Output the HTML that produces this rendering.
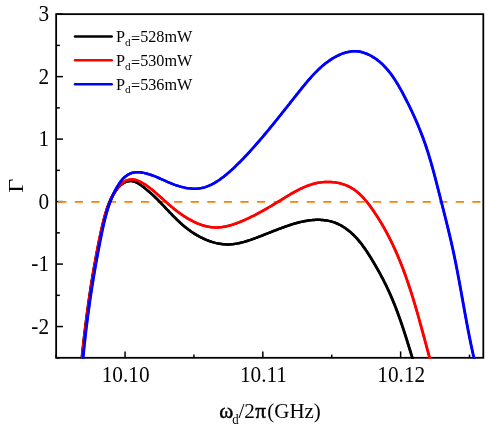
<!DOCTYPE html>
<html><head><meta charset="utf-8"><title>chart</title>
<style>
html,body{margin:0;padding:0;background:#fff;}
body{width:486px;height:429px;overflow:hidden;}
svg{display:block;will-change:transform;}
text{font-family:"Liberation Serif",serif;fill:#000;}
</style></head>
<body>
<svg width="486" height="429" viewBox="0 0 486 429">
<rect width="486" height="429" fill="#fff"/>
<defs><clipPath id="c"><rect x="55.25" y="13.25" width="428.95000000000005" height="345.45000000000005"/></clipPath></defs>
<g stroke="#000" stroke-width="1.5" fill="none"><line x1="56.15" y1="14.15" x2="62.949999999999996" y2="14.15"/><line x1="56.15" y1="76.63" x2="62.949999999999996" y2="76.63"/><line x1="56.15" y1="139.11" x2="62.949999999999996" y2="139.11"/><line x1="56.15" y1="201.60" x2="62.949999999999996" y2="201.60"/><line x1="56.15" y1="264.08" x2="62.949999999999996" y2="264.08"/><line x1="56.15" y1="326.56" x2="62.949999999999996" y2="326.56"/><line x1="56.15" y1="45.39" x2="59.85" y2="45.39"/><line x1="56.15" y1="107.87" x2="59.85" y2="107.87"/><line x1="56.15" y1="170.35" x2="59.85" y2="170.35"/><line x1="56.15" y1="232.84" x2="59.85" y2="232.84"/><line x1="56.15" y1="295.32" x2="59.85" y2="295.32"/><line x1="56.15" y1="357.80" x2="59.85" y2="357.80"/><line x1="125.05" y1="357.8" x2="125.05" y2="351.40000000000003"/><line x1="262.84" y1="357.8" x2="262.84" y2="351.40000000000003"/><line x1="400.63" y1="357.8" x2="400.63" y2="351.40000000000003"/><line x1="56.15" y1="357.8" x2="56.15" y2="354.6"/><line x1="193.94" y1="357.8" x2="193.94" y2="354.6"/><line x1="331.73" y1="357.8" x2="331.73" y2="354.6"/><line x1="469.52" y1="357.8" x2="469.52" y2="354.6"/>
<rect x="56.15" y="14.15" width="427.15000000000003" height="343.65000000000003" stroke-width="1.8"/></g>
<g clip-path="url(#c)" fill="none" stroke-linejoin="round">
<line x1="58.2" y1="201.85" x2="482.3" y2="201.85" stroke="#ff8000" stroke-width="1.7" stroke-dasharray="8.2 8.365"/>
<path d="M81.32,363.19 L81.97,357.23 L82.07,356.29 L82.18,355.34 L82.28,354.40 L82.38,353.45 L82.49,352.50 L82.59,351.56 L82.70,350.61 L82.80,349.66 L82.91,348.71 L83.02,347.76 L83.12,346.80 L83.23,345.85 L83.34,344.90 L83.45,343.94 L83.55,342.99 L83.66,342.03 L83.77,341.08 L83.88,340.12 L83.99,339.16 L84.10,338.20 L84.21,337.24 L84.33,336.28 L84.44,335.32 L84.55,334.36 L84.66,333.40 L84.78,332.44 L84.89,331.48 L85.01,330.52 L85.12,329.56 L85.24,328.59 L85.36,327.63 L85.47,326.67 L85.59,325.70 L85.71,324.74 L85.83,323.77 L85.95,322.81 L86.07,321.85 L86.19,320.88 L86.31,319.92 L86.43,318.95 L86.55,317.99 L86.68,317.02 L86.80,316.05 L86.93,315.09 L87.05,314.12 L87.18,313.16 L87.30,312.19 L87.43,311.23 L87.56,310.26 L87.69,309.30 L87.82,308.33 L87.95,307.37 L88.08,306.40 L88.21,305.44 L88.34,304.47 L88.48,303.51 L88.61,302.54 L88.74,301.58 L88.88,300.62 L89.02,299.65 L89.15,298.69 L89.29,297.73 L89.43,296.76 L89.57,295.80 L89.71,294.84 L89.85,293.88 L89.99,292.92 L90.13,291.96 L90.28,291.00 L90.42,290.04 L90.57,289.08 L90.71,288.13 L90.86,287.17 L91.01,286.21 L91.16,285.26 L91.31,284.30 L91.46,283.35 L91.61,282.39 L91.76,281.44 L91.91,280.49 L92.07,279.53 L92.22,278.58 L92.38,277.63 L92.54,276.68 L92.69,275.74 L92.85,274.79 L93.01,273.84 L93.17,272.90 L93.34,271.95 L93.50,271.01 L93.66,270.06 L93.83,269.12 L93.99,268.18 L94.16,267.24 L94.33,266.30 L94.50,265.36 L94.67,264.42 L94.84,263.48 L95.01,262.54 L95.18,261.61 L95.36,260.67 L95.53,259.73 L95.71,258.79 L95.89,257.86 L96.06,256.92 L96.24,255.98 L96.42,255.05 L96.60,254.11 L96.78,253.18 L96.97,252.24 L97.15,251.30 L97.33,250.37 L97.52,249.43 L97.71,248.49 L97.89,247.55 L98.08,246.62 L98.27,245.68 L98.46,244.74 L98.65,243.80 L98.84,242.86 L99.04,241.92 L99.23,240.98 L99.43,240.04 L99.62,239.09 L99.82,238.15 L100.02,237.20 L100.21,236.26 L100.41,235.31 L100.61,234.37 L100.82,233.42 L101.02,232.47 L101.22,231.52 L101.43,230.57 L101.63,229.61 L101.84,228.66 L102.05,227.70 L102.25,226.75 L102.47,225.79 L102.68,224.84 L102.90,223.88 L103.12,222.92 L103.34,221.97 L103.57,221.01 L103.80,220.06 L104.04,219.11 L104.28,218.16 L104.52,217.21 L104.77,216.26 L105.03,215.31 L105.29,214.37 L105.56,213.43 L105.84,212.49 L106.12,211.56 L106.42,210.62 L106.71,209.69 L107.02,208.77 L107.34,207.85 L107.66,206.93 L107.99,206.02 L108.33,205.11 L108.69,204.21 L109.05,203.31 L109.42,202.42 L109.80,201.53 L110.20,200.65 L110.60,199.77 L111.02,198.90 L111.45,198.04 L111.89,197.18 L112.35,196.33 L112.81,195.49 L113.29,194.66 L113.79,193.83 L114.30,193.01 L114.82,192.19 L115.36,191.39 L115.91,190.60 L116.48,189.81 L117.06,189.03 L117.66,188.27 L118.28,187.53 L118.92,186.80 L119.59,186.11 L120.27,185.44 L120.98,184.80 L121.72,184.20 L122.49,183.64 L123.29,183.13 L124.11,182.66 L124.97,182.25 L125.86,181.89 L126.78,181.58 L127.71,181.34 L128.66,181.17 L129.61,181.06 L130.56,181.03 L131.50,181.08 L132.43,181.20 L133.36,181.38 L134.27,181.63 L135.18,181.94 L136.07,182.30 L136.95,182.71 L137.82,183.16 L138.67,183.65 L139.52,184.18 L140.34,184.73 L141.16,185.31 L141.96,185.90 L142.74,186.51 L143.52,187.13 L144.28,187.75 L145.04,188.37 L145.80,188.99 L146.55,189.61 L147.29,190.23 L148.03,190.86 L148.76,191.48 L149.49,192.11 L150.21,192.74 L150.93,193.37 L151.65,194.00 L152.36,194.64 L153.06,195.29 L153.76,195.93 L154.46,196.58 L155.16,197.24 L155.85,197.91 L156.54,198.58 L157.22,199.25 L157.90,199.93 L158.58,200.62 L159.26,201.31 L159.94,202.00 L160.61,202.70 L161.28,203.40 L161.95,204.10 L162.62,204.81 L163.28,205.51 L163.95,206.22 L164.61,206.93 L165.28,207.64 L165.94,208.34 L166.60,209.05 L167.26,209.75 L167.93,210.46 L168.59,211.16 L169.25,211.86 L169.91,212.56 L170.58,213.25 L171.24,213.95 L171.91,214.64 L172.58,215.33 L173.25,216.01 L173.93,216.69 L174.60,217.37 L175.28,218.05 L175.96,218.72 L176.65,219.39 L177.34,220.06 L178.03,220.72 L178.72,221.37 L179.42,222.02 L180.13,222.67 L180.84,223.31 L181.56,223.95 L182.28,224.58 L183.00,225.21 L183.73,225.83 L184.47,226.45 L185.22,227.06 L185.97,227.67 L186.73,228.26 L187.49,228.86 L188.26,229.44 L189.04,230.02 L189.83,230.59 L190.63,231.16 L191.43,231.72 L192.24,232.27 L193.06,232.81 L193.89,233.34 L194.72,233.87 L195.57,234.39 L196.41,234.89 L197.27,235.39 L198.13,235.88 L199.00,236.36 L199.87,236.83 L200.75,237.28 L201.63,237.73 L202.52,238.17 L203.42,238.59 L204.32,239.00 L205.22,239.40 L206.13,239.79 L207.04,240.16 L207.95,240.52 L208.87,240.87 L209.79,241.20 L210.72,241.52 L211.65,241.82 L212.58,242.11 L213.51,242.38 L214.44,242.64 L215.38,242.88 L216.32,243.11 L217.26,243.32 L218.20,243.51 L219.14,243.69 L220.08,243.85 L221.02,243.99 L221.96,244.11 L222.90,244.21 L223.84,244.30 L224.78,244.37 L225.72,244.41 L226.66,244.44 L227.60,244.45 L228.53,244.44 L229.47,244.41 L230.40,244.36 L231.33,244.30 L232.27,244.21 L233.20,244.12 L234.13,244.00 L235.05,243.87 L235.98,243.73 L236.91,243.57 L237.83,243.39 L238.76,243.21 L239.68,243.01 L240.61,242.80 L241.53,242.57 L242.45,242.34 L243.37,242.10 L244.29,241.84 L245.21,241.57 L246.13,241.30 L247.05,241.02 L247.97,240.73 L248.89,240.43 L249.80,240.12 L250.72,239.81 L251.64,239.49 L252.55,239.17 L253.47,238.84 L254.39,238.50 L255.30,238.16 L256.22,237.82 L257.13,237.48 L258.04,237.13 L258.96,236.78 L259.87,236.43 L260.79,236.07 L261.70,235.72 L262.61,235.36 L263.53,235.00 L264.44,234.64 L265.36,234.28 L266.27,233.92 L267.18,233.56 L268.10,233.20 L269.01,232.83 L269.93,232.47 L270.84,232.11 L271.76,231.75 L272.67,231.39 L273.59,231.03 L274.51,230.67 L275.42,230.31 L276.34,229.96 L277.26,229.61 L278.18,229.26 L279.09,228.91 L280.01,228.56 L280.93,228.22 L281.85,227.88 L282.77,227.54 L283.70,227.21 L284.62,226.88 L285.54,226.55 L286.46,226.23 L287.39,225.91 L288.31,225.60 L289.24,225.29 L290.17,224.98 L291.10,224.68 L292.03,224.39 L292.96,224.10 L293.89,223.82 L294.82,223.55 L295.75,223.28 L296.68,223.02 L297.62,222.77 L298.55,222.53 L299.48,222.29 L300.42,222.06 L301.36,221.85 L302.29,221.64 L303.23,221.44 L304.17,221.25 L305.11,221.07 L306.05,220.90 L306.99,220.74 L307.93,220.60 L308.87,220.46 L309.81,220.34 L310.75,220.23 L311.70,220.13 L312.64,220.04 L313.58,219.97 L314.53,219.91 L315.47,219.87 L316.42,219.84 L317.36,219.82 L318.31,219.82 L319.25,219.84 L320.20,219.87 L321.14,219.91 L322.09,219.97 L323.04,220.05 L323.98,220.15 L324.93,220.26 L325.87,220.39 L326.81,220.54 L327.75,220.71 L328.69,220.89 L329.63,221.10 L330.56,221.33 L331.49,221.57 L332.41,221.84 L333.33,222.13 L334.24,222.44 L335.15,222.77 L336.05,223.13 L336.95,223.50 L337.84,223.90 L338.72,224.32 L339.60,224.76 L340.47,225.22 L341.33,225.70 L342.18,226.19 L343.02,226.70 L343.86,227.23 L344.68,227.77 L345.50,228.33 L346.30,228.90 L347.09,229.48 L347.88,230.07 L348.65,230.68 L349.41,231.29 L350.15,231.92 L350.89,232.55 L351.61,233.20 L352.33,233.85 L353.03,234.51 L353.73,235.19 L354.41,235.87 L355.09,236.56 L355.75,237.25 L356.41,237.96 L357.06,238.67 L357.69,239.39 L358.32,240.12 L358.95,240.85 L359.56,241.59 L360.17,242.34 L360.77,243.09 L361.36,243.85 L361.94,244.62 L362.52,245.39 L363.10,246.16 L363.66,246.94 L364.22,247.73 L364.78,248.52 L365.33,249.31 L365.87,250.11 L366.41,250.92 L366.94,251.72 L367.48,252.53 L368.00,253.34 L368.52,254.16 L369.04,254.97 L369.56,255.79 L370.07,256.62 L370.58,257.44 L371.09,258.26 L371.59,259.09 L372.09,259.92 L372.59,260.75 L373.09,261.58 L373.59,262.41 L374.08,263.24 L374.57,264.07 L375.06,264.91 L375.55,265.74 L376.03,266.58 L376.51,267.42 L376.99,268.26 L377.47,269.10 L377.94,269.94 L378.41,270.78 L378.88,271.62 L379.35,272.47 L379.82,273.32 L380.28,274.16 L380.74,275.01 L381.19,275.86 L381.64,276.71 L382.10,277.57 L382.54,278.42 L382.99,279.28 L383.43,280.13 L383.87,280.99 L384.31,281.85 L384.74,282.71 L385.17,283.58 L385.60,284.44 L386.02,285.31 L386.44,286.17 L386.86,287.04 L387.27,287.91 L387.69,288.78 L388.09,289.66 L388.50,290.53 L388.90,291.41 L389.30,292.29 L389.69,293.17 L390.09,294.05 L390.48,294.93 L390.86,295.81 L391.24,296.70 L391.62,297.58 L392.00,298.47 L392.38,299.36 L392.75,300.25 L393.12,301.14 L393.48,302.03 L393.85,302.93 L394.21,303.82 L394.56,304.72 L394.92,305.62 L395.27,306.52 L395.62,307.42 L395.97,308.32 L396.32,309.22 L396.66,310.12 L397.00,311.02 L397.34,311.93 L397.68,312.84 L398.01,313.74 L398.34,314.65 L398.67,315.56 L399.00,316.47 L399.33,317.38 L399.65,318.29 L399.97,319.20 L400.29,320.11 L400.61,321.02 L400.93,321.94 L401.24,322.85 L401.55,323.77 L401.87,324.68 L402.18,325.60 L402.48,326.52 L402.79,327.43 L403.10,328.35 L403.40,329.27 L403.70,330.19 L404.00,331.11 L404.30,332.03 L404.60,332.95 L404.90,333.87 L405.19,334.79 L405.49,335.71 L405.78,336.63 L406.07,337.56 L406.37,338.48 L406.66,339.40 L406.95,340.32 L407.23,341.25 L407.52,342.17 L407.81,343.09 L408.10,344.01 L408.38,344.94 L408.67,345.86 L408.95,346.78 L409.23,347.71 L409.52,348.63 L409.80,349.55 L410.08,350.48 L410.36,351.40 L410.65,352.32 L410.93,353.25 L411.21,354.17 L411.49,355.09 L411.77,356.01 L412.05,356.94 L413.79,362.68" stroke="#000" stroke-width="2.5" transform="translate(-0.2,0)"/><path d="M81.32,363.19 L81.97,357.23 L82.07,356.29 L82.18,355.34 L82.28,354.40 L82.38,353.45 L82.49,352.50 L82.59,351.56 L82.70,350.61 L82.80,349.66 L82.91,348.71 L83.02,347.76 L83.12,346.80 L83.23,345.85 L83.34,344.90 L83.45,343.94 L83.55,342.99 L83.66,342.03 L83.77,341.08 L83.88,340.12 L83.99,339.16 L84.10,338.20 L84.21,337.24 L84.33,336.28 L84.44,335.32 L84.55,334.36 L84.66,333.40 L84.78,332.44 L84.89,331.48 L85.01,330.52 L85.12,329.56 L85.24,328.59 L85.36,327.63 L85.47,326.67 L85.59,325.70 L85.71,324.74 L85.83,323.77 L85.95,322.81 L86.07,321.85 L86.19,320.88 L86.31,319.92 L86.43,318.95 L86.55,317.99 L86.68,317.02 L86.80,316.05 L86.93,315.09 L87.05,314.12 L87.18,313.16 L87.30,312.19 L87.43,311.23 L87.56,310.26 L87.69,309.30 L87.82,308.33 L87.95,307.37 L88.08,306.40 L88.21,305.44 L88.34,304.47 L88.48,303.51 L88.61,302.54 L88.74,301.58 L88.88,300.62 L89.02,299.65 L89.15,298.69 L89.29,297.73 L89.43,296.76 L89.57,295.80 L89.71,294.84 L89.85,293.88 L89.99,292.92 L90.13,291.96 L90.28,291.00 L90.42,290.04 L90.57,289.08 L90.71,288.13 L90.86,287.17 L91.01,286.21 L91.16,285.26 L91.31,284.30 L91.46,283.35 L91.61,282.39 L91.76,281.44 L91.91,280.49 L92.07,279.53 L92.22,278.58 L92.38,277.63 L92.54,276.68 L92.69,275.74 L92.85,274.79 L93.01,273.84 L93.17,272.90 L93.34,271.95 L93.50,271.01 L93.66,270.06 L93.83,269.12 L93.99,268.18 L94.16,267.24 L94.33,266.30 L94.50,265.36 L94.67,264.42 L94.84,263.48 L95.01,262.54 L95.18,261.61 L95.36,260.67 L95.53,259.73 L95.71,258.79 L95.89,257.86 L96.06,256.92 L96.24,255.98 L96.42,255.05 L96.60,254.11 L96.78,253.18 L96.97,252.24 L97.15,251.30 L97.33,250.37 L97.52,249.43 L97.71,248.49 L97.89,247.55 L98.08,246.62 L98.27,245.68 L98.46,244.74 L98.65,243.80 L98.84,242.86 L99.04,241.92 L99.23,240.98 L99.43,240.04 L99.62,239.09 L99.82,238.15 L100.02,237.20 L100.21,236.26 L100.41,235.31 L100.61,234.37 L100.82,233.42 L101.02,232.47 L101.22,231.52 L101.43,230.57 L101.63,229.61 L101.84,228.66 L102.05,227.70 L102.25,226.75 L102.47,225.79 L102.68,224.84 L102.90,223.88 L103.12,222.92 L103.34,221.97 L103.57,221.01 L103.80,220.06 L104.04,219.11 L104.28,218.16 L104.52,217.21 L104.77,216.26 L105.03,215.31 L105.29,214.37 L105.56,213.43 L105.84,212.49 L106.12,211.56 L106.42,210.62 L106.71,209.69 L107.02,208.77 L107.34,207.85 L107.66,206.93 L107.99,206.02 L108.33,205.11 L108.69,204.21 L109.05,203.31 L109.42,202.42 L109.80,201.53 L110.20,200.65 L110.60,199.77 L111.02,198.90 L111.45,198.04 L111.89,197.18 L112.35,196.33 L112.81,195.49 L113.29,194.66 L113.79,193.83 L114.30,193.01 L114.82,192.19 L115.36,191.39 L115.91,190.60 L116.48,189.81 L117.06,189.03 L117.66,188.27 L118.28,187.53 L118.92,186.80 L119.59,186.11 L120.27,185.44 L120.98,184.80 L121.72,184.20 L122.49,183.64 L123.29,183.13 L124.11,182.66 L124.97,182.25 L125.86,181.89 L126.78,181.58 L127.71,181.34 L128.66,181.17 L129.61,181.06 L130.56,181.03 L131.50,181.08 L132.43,181.20 L133.36,181.38 L134.27,181.63 L135.18,181.94 L136.07,182.30 L136.95,182.71 L137.82,183.16 L138.67,183.65 L139.52,184.18 L140.34,184.73 L141.16,185.31 L141.96,185.90 L142.74,186.51 L143.52,187.13 L144.28,187.75 L145.04,188.37 L145.80,188.99 L146.55,189.61 L147.29,190.23 L148.03,190.86 L148.76,191.48 L149.49,192.11 L150.21,192.74 L150.93,193.37 L151.65,194.00 L152.36,194.64 L153.06,195.29 L153.76,195.93 L154.46,196.58 L155.16,197.24 L155.85,197.91 L156.54,198.58 L157.22,199.25 L157.90,199.93 L158.58,200.62 L159.26,201.31 L159.94,202.00 L160.61,202.70 L161.28,203.40 L161.95,204.10 L162.62,204.81 L163.28,205.51 L163.95,206.22 L164.61,206.93 L165.28,207.64 L165.94,208.34 L166.60,209.05 L167.26,209.75 L167.93,210.46 L168.59,211.16 L169.25,211.86 L169.91,212.56 L170.58,213.25 L171.24,213.95 L171.91,214.64 L172.58,215.33 L173.25,216.01 L173.93,216.69 L174.60,217.37 L175.28,218.05 L175.96,218.72 L176.65,219.39 L177.34,220.06 L178.03,220.72 L178.72,221.37 L179.42,222.02 L180.13,222.67 L180.84,223.31 L181.56,223.95 L182.28,224.58 L183.00,225.21 L183.73,225.83 L184.47,226.45 L185.22,227.06 L185.97,227.67 L186.73,228.26 L187.49,228.86 L188.26,229.44 L189.04,230.02 L189.83,230.59 L190.63,231.16 L191.43,231.72 L192.24,232.27 L193.06,232.81 L193.89,233.34 L194.72,233.87 L195.57,234.39 L196.41,234.89 L197.27,235.39 L198.13,235.88 L199.00,236.36 L199.87,236.83 L200.75,237.28 L201.63,237.73 L202.52,238.17 L203.42,238.59 L204.32,239.00 L205.22,239.40 L206.13,239.79 L207.04,240.16 L207.95,240.52 L208.87,240.87 L209.79,241.20 L210.72,241.52 L211.65,241.82 L212.58,242.11 L213.51,242.38 L214.44,242.64 L215.38,242.88 L216.32,243.11 L217.26,243.32 L218.20,243.51 L219.14,243.69 L220.08,243.85 L221.02,243.99 L221.96,244.11 L222.90,244.21 L223.84,244.30 L224.78,244.37 L225.72,244.41 L226.66,244.44 L227.60,244.45 L228.53,244.44 L229.47,244.41 L230.40,244.36 L231.33,244.30 L232.27,244.21 L233.20,244.12 L234.13,244.00 L235.05,243.87 L235.98,243.73 L236.91,243.57 L237.83,243.39 L238.76,243.21 L239.68,243.01 L240.61,242.80 L241.53,242.57 L242.45,242.34 L243.37,242.10 L244.29,241.84 L245.21,241.57 L246.13,241.30 L247.05,241.02 L247.97,240.73 L248.89,240.43 L249.80,240.12 L250.72,239.81 L251.64,239.49 L252.55,239.17 L253.47,238.84 L254.39,238.50 L255.30,238.16 L256.22,237.82 L257.13,237.48 L258.04,237.13 L258.96,236.78 L259.87,236.43 L260.79,236.07 L261.70,235.72 L262.61,235.36 L263.53,235.00 L264.44,234.64 L265.36,234.28 L266.27,233.92 L267.18,233.56 L268.10,233.20 L269.01,232.83 L269.93,232.47 L270.84,232.11 L271.76,231.75 L272.67,231.39 L273.59,231.03 L274.51,230.67 L275.42,230.31 L276.34,229.96 L277.26,229.61 L278.18,229.26 L279.09,228.91 L280.01,228.56 L280.93,228.22 L281.85,227.88 L282.77,227.54 L283.70,227.21 L284.62,226.88 L285.54,226.55 L286.46,226.23 L287.39,225.91 L288.31,225.60 L289.24,225.29 L290.17,224.98 L291.10,224.68 L292.03,224.39 L292.96,224.10 L293.89,223.82 L294.82,223.55 L295.75,223.28 L296.68,223.02 L297.62,222.77 L298.55,222.53 L299.48,222.29 L300.42,222.06 L301.36,221.85 L302.29,221.64 L303.23,221.44 L304.17,221.25 L305.11,221.07 L306.05,220.90 L306.99,220.74 L307.93,220.60 L308.87,220.46 L309.81,220.34 L310.75,220.23 L311.70,220.13 L312.64,220.04 L313.58,219.97 L314.53,219.91 L315.47,219.87 L316.42,219.84 L317.36,219.82 L318.31,219.82 L319.25,219.84 L320.20,219.87 L321.14,219.91 L322.09,219.97 L323.04,220.05 L323.98,220.15 L324.93,220.26 L325.87,220.39 L326.81,220.54 L327.75,220.71 L328.69,220.89 L329.63,221.10 L330.56,221.33 L331.49,221.57 L332.41,221.84 L333.33,222.13 L334.24,222.44 L335.15,222.77 L336.05,223.13 L336.95,223.50 L337.84,223.90 L338.72,224.32 L339.60,224.76 L340.47,225.22 L341.33,225.70 L342.18,226.19 L343.02,226.70 L343.86,227.23 L344.68,227.77 L345.50,228.33 L346.30,228.90 L347.09,229.48 L347.88,230.07 L348.65,230.68 L349.41,231.29 L350.15,231.92 L350.89,232.55 L351.61,233.20 L352.33,233.85 L353.03,234.51 L353.73,235.19 L354.41,235.87 L355.09,236.56 L355.75,237.25 L356.41,237.96 L357.06,238.67 L357.69,239.39 L358.32,240.12 L358.95,240.85 L359.56,241.59 L360.17,242.34 L360.77,243.09 L361.36,243.85 L361.94,244.62 L362.52,245.39 L363.10,246.16 L363.66,246.94 L364.22,247.73 L364.78,248.52 L365.33,249.31 L365.87,250.11 L366.41,250.92 L366.94,251.72 L367.48,252.53 L368.00,253.34 L368.52,254.16 L369.04,254.97 L369.56,255.79 L370.07,256.62 L370.58,257.44 L371.09,258.26 L371.59,259.09 L372.09,259.92 L372.59,260.75 L373.09,261.58 L373.59,262.41 L374.08,263.24 L374.57,264.07 L375.06,264.91 L375.55,265.74 L376.03,266.58 L376.51,267.42 L376.99,268.26 L377.47,269.10 L377.94,269.94 L378.41,270.78 L378.88,271.62 L379.35,272.47 L379.82,273.32 L380.28,274.16 L380.74,275.01 L381.19,275.86 L381.64,276.71 L382.10,277.57 L382.54,278.42 L382.99,279.28 L383.43,280.13 L383.87,280.99 L384.31,281.85 L384.74,282.71 L385.17,283.58 L385.60,284.44 L386.02,285.31 L386.44,286.17 L386.86,287.04 L387.27,287.91 L387.69,288.78 L388.09,289.66 L388.50,290.53 L388.90,291.41 L389.30,292.29 L389.69,293.17 L390.09,294.05 L390.48,294.93 L390.86,295.81 L391.24,296.70 L391.62,297.58 L392.00,298.47 L392.38,299.36 L392.75,300.25 L393.12,301.14 L393.48,302.03 L393.85,302.93 L394.21,303.82 L394.56,304.72 L394.92,305.62 L395.27,306.52 L395.62,307.42 L395.97,308.32 L396.32,309.22 L396.66,310.12 L397.00,311.02 L397.34,311.93 L397.68,312.84 L398.01,313.74 L398.34,314.65 L398.67,315.56 L399.00,316.47 L399.33,317.38 L399.65,318.29 L399.97,319.20 L400.29,320.11 L400.61,321.02 L400.93,321.94 L401.24,322.85 L401.55,323.77 L401.87,324.68 L402.18,325.60 L402.48,326.52 L402.79,327.43 L403.10,328.35 L403.40,329.27 L403.70,330.19 L404.00,331.11 L404.30,332.03 L404.60,332.95 L404.90,333.87 L405.19,334.79 L405.49,335.71 L405.78,336.63 L406.07,337.56 L406.37,338.48 L406.66,339.40 L406.95,340.32 L407.23,341.25 L407.52,342.17 L407.81,343.09 L408.10,344.01 L408.38,344.94 L408.67,345.86 L408.95,346.78 L409.23,347.71 L409.52,348.63 L409.80,349.55 L410.08,350.48 L410.36,351.40 L410.65,352.32 L410.93,353.25 L411.21,354.17 L411.49,355.09 L411.77,356.01 L412.05,356.94 L413.79,362.68" stroke="#000" stroke-width="2.5" transform="translate(0.2,0)"/>
<path d="M81.66,363.31 L82.22,357.33 L82.32,356.28 L82.41,355.23 L82.51,354.19 L82.61,353.14 L82.72,352.09 L82.82,351.04 L82.92,350.00 L83.03,348.95 L83.13,347.90 L83.24,346.86 L83.35,345.81 L83.46,344.77 L83.57,343.73 L83.68,342.68 L83.79,341.64 L83.91,340.60 L84.02,339.56 L84.14,338.52 L84.25,337.48 L84.37,336.44 L84.49,335.40 L84.61,334.36 L84.73,333.32 L84.85,332.28 L84.98,331.24 L85.10,330.20 L85.22,329.16 L85.35,328.13 L85.48,327.09 L85.61,326.05 L85.73,325.02 L85.86,323.98 L86.00,322.94 L86.13,321.91 L86.26,320.87 L86.39,319.84 L86.53,318.80 L86.66,317.77 L86.80,316.74 L86.94,315.70 L87.08,314.67 L87.22,313.63 L87.36,312.60 L87.50,311.57 L87.64,310.54 L87.78,309.50 L87.92,308.47 L88.07,307.44 L88.21,306.41 L88.36,305.37 L88.51,304.34 L88.66,303.31 L88.81,302.28 L88.95,301.25 L89.11,300.22 L89.26,299.18 L89.41,298.15 L89.56,297.12 L89.72,296.09 L89.87,295.06 L90.03,294.03 L90.18,293.00 L90.34,291.97 L90.50,290.94 L90.65,289.90 L90.81,288.87 L90.97,287.84 L91.13,286.81 L91.30,285.78 L91.46,284.75 L91.62,283.72 L91.78,282.69 L91.95,281.66 L92.11,280.62 L92.28,279.59 L92.45,278.56 L92.61,277.53 L92.78,276.50 L92.95,275.47 L93.12,274.43 L93.29,273.40 L93.46,272.37 L93.63,271.34 L93.80,270.30 L93.97,269.27 L94.15,268.24 L94.32,267.21 L94.50,266.17 L94.67,265.14 L94.85,264.10 L95.02,263.07 L95.20,262.04 L95.38,261.00 L95.55,259.97 L95.73,258.93 L95.91,257.90 L96.09,256.86 L96.27,255.82 L96.46,254.79 L96.64,253.75 L96.82,252.72 L97.01,251.68 L97.19,250.65 L97.38,249.61 L97.57,248.58 L97.76,247.54 L97.95,246.51 L98.15,245.48 L98.35,244.44 L98.54,243.41 L98.74,242.38 L98.95,241.35 L99.15,240.32 L99.36,239.29 L99.57,238.26 L99.78,237.23 L99.99,236.20 L100.21,235.17 L100.43,234.15 L100.65,233.12 L100.88,232.10 L101.10,231.08 L101.34,230.06 L101.57,229.04 L101.81,228.02 L102.05,227.01 L102.29,225.99 L102.54,224.98 L102.79,223.96 L103.05,222.95 L103.31,221.95 L103.57,220.94 L103.84,219.93 L104.11,218.93 L104.39,217.93 L104.67,216.93 L104.95,215.93 L105.24,214.94 L105.53,213.94 L105.83,212.95 L106.13,211.96 L106.45,210.97 L106.76,209.99 L107.09,209.01 L107.42,208.03 L107.76,207.05 L108.11,206.07 L108.47,205.10 L108.83,204.13 L109.21,203.16 L109.60,202.19 L110.00,201.23 L110.41,200.27 L110.83,199.31 L111.27,198.35 L111.72,197.40 L112.18,196.44 L112.66,195.49 L113.15,194.55 L113.65,193.61 L114.18,192.67 L114.72,191.75 L115.28,190.84 L115.86,189.95 L116.46,189.07 L117.09,188.22 L117.74,187.39 L118.41,186.58 L119.11,185.80 L119.84,185.06 L120.60,184.34 L121.38,183.67 L122.19,183.03 L123.04,182.43 L123.90,181.87 L124.80,181.36 L125.71,180.90 L126.65,180.49 L127.61,180.14 L128.58,179.86 L129.57,179.65 L130.57,179.51 L131.57,179.44 L132.59,179.47 L133.61,179.57 L134.62,179.75 L135.64,180.00 L136.65,180.30 L137.66,180.66 L138.66,181.07 L139.65,181.51 L140.62,181.98 L141.58,182.48 L142.52,183.00 L143.45,183.54 L144.36,184.09 L145.25,184.66 L146.13,185.25 L147.00,185.85 L147.86,186.47 L148.71,187.09 L149.55,187.73 L150.37,188.37 L151.19,189.02 L152.00,189.68 L152.81,190.34 L153.61,191.00 L154.40,191.67 L155.19,192.34 L155.97,193.02 L156.75,193.69 L157.53,194.37 L158.30,195.06 L159.07,195.74 L159.84,196.43 L160.60,197.11 L161.37,197.80 L162.13,198.49 L162.90,199.18 L163.67,199.87 L164.43,200.56 L165.20,201.25 L165.97,201.94 L166.75,202.62 L167.52,203.31 L168.30,204.00 L169.09,204.68 L169.88,205.36 L170.67,206.04 L171.47,206.72 L172.28,207.40 L173.09,208.07 L173.91,208.74 L174.74,209.40 L175.57,210.06 L176.42,210.72 L177.27,211.37 L178.12,212.02 L178.99,212.66 L179.86,213.29 L180.74,213.91 L181.62,214.53 L182.52,215.14 L183.41,215.75 L184.32,216.34 L185.23,216.92 L186.14,217.50 L187.06,218.06 L187.99,218.61 L188.92,219.15 L189.86,219.68 L190.80,220.19 L191.74,220.69 L192.69,221.18 L193.65,221.66 L194.61,222.11 L195.57,222.56 L196.54,222.99 L197.51,223.40 L198.48,223.79 L199.46,224.17 L200.44,224.53 L201.43,224.87 L202.42,225.20 L203.41,225.50 L204.40,225.78 L205.39,226.05 L206.39,226.29 L207.39,226.51 L208.39,226.71 L209.40,226.89 L210.40,227.04 L211.41,227.18 L212.42,227.28 L213.43,227.37 L214.44,227.42 L215.45,227.46 L216.46,227.46 L217.47,227.44 L218.49,227.40 L219.50,227.34 L220.51,227.25 L221.53,227.13 L222.54,227.00 L223.55,226.85 L224.56,226.67 L225.57,226.48 L226.59,226.26 L227.59,226.03 L228.60,225.79 L229.61,225.52 L230.61,225.24 L231.62,224.95 L232.62,224.64 L233.62,224.31 L234.61,223.98 L235.61,223.63 L236.60,223.27 L237.59,222.90 L238.58,222.52 L239.56,222.13 L240.54,221.73 L241.52,221.32 L242.49,220.91 L243.46,220.49 L244.43,220.06 L245.39,219.63 L246.35,219.20 L247.30,218.76 L248.25,218.31 L249.20,217.86 L250.14,217.41 L251.08,216.95 L252.02,216.49 L252.95,216.02 L253.88,215.55 L254.81,215.08 L255.74,214.60 L256.66,214.12 L257.58,213.63 L258.50,213.14 L259.41,212.65 L260.33,212.15 L261.24,211.65 L262.15,211.15 L263.06,210.64 L263.96,210.14 L264.87,209.62 L265.77,209.11 L266.67,208.59 L267.57,208.07 L268.47,207.54 L269.37,207.02 L270.27,206.49 L271.17,205.96 L272.07,205.42 L272.96,204.89 L273.86,204.35 L274.76,203.81 L275.65,203.27 L276.55,202.72 L277.44,202.17 L278.34,201.63 L279.24,201.08 L280.14,200.52 L281.04,199.97 L281.93,199.42 L282.84,198.86 L283.74,198.31 L284.64,197.76 L285.54,197.20 L286.45,196.65 L287.36,196.10 L288.26,195.56 L289.18,195.02 L290.09,194.48 L291.00,193.94 L291.92,193.41 L292.84,192.89 L293.76,192.37 L294.68,191.86 L295.61,191.36 L296.54,190.86 L297.47,190.37 L298.41,189.89 L299.34,189.42 L300.29,188.95 L301.23,188.50 L302.18,188.06 L303.13,187.63 L304.09,187.21 L305.05,186.80 L306.01,186.41 L306.98,186.03 L307.95,185.66 L308.93,185.30 L309.91,184.97 L310.90,184.64 L311.89,184.33 L312.88,184.04 L313.88,183.77 L314.89,183.51 L315.90,183.27 L316.91,183.05 L317.94,182.85 L318.96,182.66 L320.00,182.50 L321.03,182.36 L322.08,182.23 L323.12,182.13 L324.17,182.05 L325.22,181.99 L326.28,181.95 L327.33,181.92 L328.39,181.92 L329.44,181.95 L330.50,181.99 L331.55,182.05 L332.60,182.13 L333.65,182.24 L334.70,182.37 L335.74,182.51 L336.78,182.68 L337.81,182.87 L338.83,183.09 L339.85,183.32 L340.87,183.58 L341.87,183.86 L342.86,184.16 L343.85,184.48 L344.83,184.82 L345.79,185.19 L346.75,185.58 L347.69,185.99 L348.62,186.43 L349.53,186.89 L350.44,187.37 L351.33,187.87 L352.20,188.40 L353.07,188.94 L353.92,189.51 L354.75,190.09 L355.58,190.70 L356.39,191.32 L357.19,191.96 L357.98,192.62 L358.76,193.30 L359.53,193.99 L360.28,194.70 L361.03,195.42 L361.77,196.16 L362.49,196.90 L363.21,197.67 L363.92,198.44 L364.61,199.23 L365.30,200.02 L365.99,200.83 L366.66,201.64 L367.33,202.47 L367.98,203.30 L368.63,204.14 L369.28,204.99 L369.91,205.84 L370.55,206.70 L371.17,207.57 L371.79,208.44 L372.40,209.31 L373.01,210.19 L373.61,211.07 L374.21,211.95 L374.80,212.83 L375.39,213.71 L375.97,214.60 L376.55,215.49 L377.13,216.38 L377.70,217.27 L378.26,218.16 L378.82,219.06 L379.38,219.96 L379.93,220.86 L380.48,221.76 L381.02,222.66 L381.56,223.56 L382.09,224.47 L382.62,225.38 L383.15,226.29 L383.67,227.20 L384.19,228.11 L384.70,229.03 L385.21,229.95 L385.71,230.86 L386.21,231.78 L386.71,232.71 L387.20,233.63 L387.69,234.55 L388.18,235.48 L388.66,236.41 L389.13,237.34 L389.61,238.27 L390.08,239.20 L390.54,240.14 L391.01,241.07 L391.46,242.01 L391.92,242.95 L392.37,243.89 L392.82,244.83 L393.26,245.77 L393.70,246.72 L394.14,247.67 L394.58,248.61 L395.01,249.56 L395.43,250.51 L395.86,251.46 L396.28,252.42 L396.70,253.37 L397.11,254.33 L397.52,255.28 L397.93,256.24 L398.34,257.20 L398.74,258.16 L399.14,259.12 L399.53,260.08 L399.93,261.05 L400.32,262.01 L400.70,262.98 L401.09,263.95 L401.47,264.92 L401.85,265.89 L402.23,266.86 L402.60,267.83 L402.97,268.80 L403.34,269.78 L403.70,270.75 L404.07,271.73 L404.43,272.71 L404.79,273.68 L405.14,274.66 L405.50,275.64 L405.85,276.63 L406.20,277.61 L406.54,278.59 L406.89,279.58 L407.23,280.56 L407.57,281.55 L407.90,282.53 L408.24,283.52 L408.57,284.51 L408.90,285.50 L409.23,286.49 L409.56,287.48 L409.89,288.47 L410.21,289.47 L410.53,290.46 L410.85,291.45 L411.17,292.45 L411.48,293.44 L411.80,294.44 L412.11,295.44 L412.42,296.43 L412.73,297.43 L413.04,298.43 L413.35,299.43 L413.65,300.43 L413.95,301.43 L414.26,302.43 L414.56,303.44 L414.85,304.44 L415.15,305.44 L415.45,306.44 L415.74,307.45 L416.04,308.45 L416.33,309.46 L416.62,310.46 L416.91,311.47 L417.20,312.47 L417.49,313.48 L417.78,314.49 L418.06,315.49 L418.35,316.50 L418.63,317.51 L418.91,318.52 L419.20,319.52 L419.48,320.53 L419.76,321.54 L420.04,322.55 L420.32,323.56 L420.60,324.57 L420.88,325.58 L421.15,326.59 L421.43,327.60 L421.71,328.61 L421.98,329.62 L422.26,330.63 L422.53,331.64 L422.81,332.65 L423.08,333.66 L423.36,334.67 L423.63,335.68 L423.90,336.69 L424.18,337.70 L424.45,338.71 L424.72,339.72 L424.99,340.73 L425.27,341.75 L425.54,342.76 L425.81,343.77 L426.09,344.78 L426.36,345.79 L426.63,346.80 L426.90,347.81 L427.18,348.81 L427.45,349.82 L427.72,350.83 L428.00,351.84 L428.27,352.85 L428.55,353.86 L428.82,354.87 L429.10,355.87 L429.37,356.88 L430.96,362.67" stroke="#f00" stroke-width="2.5" transform="translate(-0.2,0)"/><path d="M81.66,363.31 L82.22,357.33 L82.32,356.28 L82.41,355.23 L82.51,354.19 L82.61,353.14 L82.72,352.09 L82.82,351.04 L82.92,350.00 L83.03,348.95 L83.13,347.90 L83.24,346.86 L83.35,345.81 L83.46,344.77 L83.57,343.73 L83.68,342.68 L83.79,341.64 L83.91,340.60 L84.02,339.56 L84.14,338.52 L84.25,337.48 L84.37,336.44 L84.49,335.40 L84.61,334.36 L84.73,333.32 L84.85,332.28 L84.98,331.24 L85.10,330.20 L85.22,329.16 L85.35,328.13 L85.48,327.09 L85.61,326.05 L85.73,325.02 L85.86,323.98 L86.00,322.94 L86.13,321.91 L86.26,320.87 L86.39,319.84 L86.53,318.80 L86.66,317.77 L86.80,316.74 L86.94,315.70 L87.08,314.67 L87.22,313.63 L87.36,312.60 L87.50,311.57 L87.64,310.54 L87.78,309.50 L87.92,308.47 L88.07,307.44 L88.21,306.41 L88.36,305.37 L88.51,304.34 L88.66,303.31 L88.81,302.28 L88.95,301.25 L89.11,300.22 L89.26,299.18 L89.41,298.15 L89.56,297.12 L89.72,296.09 L89.87,295.06 L90.03,294.03 L90.18,293.00 L90.34,291.97 L90.50,290.94 L90.65,289.90 L90.81,288.87 L90.97,287.84 L91.13,286.81 L91.30,285.78 L91.46,284.75 L91.62,283.72 L91.78,282.69 L91.95,281.66 L92.11,280.62 L92.28,279.59 L92.45,278.56 L92.61,277.53 L92.78,276.50 L92.95,275.47 L93.12,274.43 L93.29,273.40 L93.46,272.37 L93.63,271.34 L93.80,270.30 L93.97,269.27 L94.15,268.24 L94.32,267.21 L94.50,266.17 L94.67,265.14 L94.85,264.10 L95.02,263.07 L95.20,262.04 L95.38,261.00 L95.55,259.97 L95.73,258.93 L95.91,257.90 L96.09,256.86 L96.27,255.82 L96.46,254.79 L96.64,253.75 L96.82,252.72 L97.01,251.68 L97.19,250.65 L97.38,249.61 L97.57,248.58 L97.76,247.54 L97.95,246.51 L98.15,245.48 L98.35,244.44 L98.54,243.41 L98.74,242.38 L98.95,241.35 L99.15,240.32 L99.36,239.29 L99.57,238.26 L99.78,237.23 L99.99,236.20 L100.21,235.17 L100.43,234.15 L100.65,233.12 L100.88,232.10 L101.10,231.08 L101.34,230.06 L101.57,229.04 L101.81,228.02 L102.05,227.01 L102.29,225.99 L102.54,224.98 L102.79,223.96 L103.05,222.95 L103.31,221.95 L103.57,220.94 L103.84,219.93 L104.11,218.93 L104.39,217.93 L104.67,216.93 L104.95,215.93 L105.24,214.94 L105.53,213.94 L105.83,212.95 L106.13,211.96 L106.45,210.97 L106.76,209.99 L107.09,209.01 L107.42,208.03 L107.76,207.05 L108.11,206.07 L108.47,205.10 L108.83,204.13 L109.21,203.16 L109.60,202.19 L110.00,201.23 L110.41,200.27 L110.83,199.31 L111.27,198.35 L111.72,197.40 L112.18,196.44 L112.66,195.49 L113.15,194.55 L113.65,193.61 L114.18,192.67 L114.72,191.75 L115.28,190.84 L115.86,189.95 L116.46,189.07 L117.09,188.22 L117.74,187.39 L118.41,186.58 L119.11,185.80 L119.84,185.06 L120.60,184.34 L121.38,183.67 L122.19,183.03 L123.04,182.43 L123.90,181.87 L124.80,181.36 L125.71,180.90 L126.65,180.49 L127.61,180.14 L128.58,179.86 L129.57,179.65 L130.57,179.51 L131.57,179.44 L132.59,179.47 L133.61,179.57 L134.62,179.75 L135.64,180.00 L136.65,180.30 L137.66,180.66 L138.66,181.07 L139.65,181.51 L140.62,181.98 L141.58,182.48 L142.52,183.00 L143.45,183.54 L144.36,184.09 L145.25,184.66 L146.13,185.25 L147.00,185.85 L147.86,186.47 L148.71,187.09 L149.55,187.73 L150.37,188.37 L151.19,189.02 L152.00,189.68 L152.81,190.34 L153.61,191.00 L154.40,191.67 L155.19,192.34 L155.97,193.02 L156.75,193.69 L157.53,194.37 L158.30,195.06 L159.07,195.74 L159.84,196.43 L160.60,197.11 L161.37,197.80 L162.13,198.49 L162.90,199.18 L163.67,199.87 L164.43,200.56 L165.20,201.25 L165.97,201.94 L166.75,202.62 L167.52,203.31 L168.30,204.00 L169.09,204.68 L169.88,205.36 L170.67,206.04 L171.47,206.72 L172.28,207.40 L173.09,208.07 L173.91,208.74 L174.74,209.40 L175.57,210.06 L176.42,210.72 L177.27,211.37 L178.12,212.02 L178.99,212.66 L179.86,213.29 L180.74,213.91 L181.62,214.53 L182.52,215.14 L183.41,215.75 L184.32,216.34 L185.23,216.92 L186.14,217.50 L187.06,218.06 L187.99,218.61 L188.92,219.15 L189.86,219.68 L190.80,220.19 L191.74,220.69 L192.69,221.18 L193.65,221.66 L194.61,222.11 L195.57,222.56 L196.54,222.99 L197.51,223.40 L198.48,223.79 L199.46,224.17 L200.44,224.53 L201.43,224.87 L202.42,225.20 L203.41,225.50 L204.40,225.78 L205.39,226.05 L206.39,226.29 L207.39,226.51 L208.39,226.71 L209.40,226.89 L210.40,227.04 L211.41,227.18 L212.42,227.28 L213.43,227.37 L214.44,227.42 L215.45,227.46 L216.46,227.46 L217.47,227.44 L218.49,227.40 L219.50,227.34 L220.51,227.25 L221.53,227.13 L222.54,227.00 L223.55,226.85 L224.56,226.67 L225.57,226.48 L226.59,226.26 L227.59,226.03 L228.60,225.79 L229.61,225.52 L230.61,225.24 L231.62,224.95 L232.62,224.64 L233.62,224.31 L234.61,223.98 L235.61,223.63 L236.60,223.27 L237.59,222.90 L238.58,222.52 L239.56,222.13 L240.54,221.73 L241.52,221.32 L242.49,220.91 L243.46,220.49 L244.43,220.06 L245.39,219.63 L246.35,219.20 L247.30,218.76 L248.25,218.31 L249.20,217.86 L250.14,217.41 L251.08,216.95 L252.02,216.49 L252.95,216.02 L253.88,215.55 L254.81,215.08 L255.74,214.60 L256.66,214.12 L257.58,213.63 L258.50,213.14 L259.41,212.65 L260.33,212.15 L261.24,211.65 L262.15,211.15 L263.06,210.64 L263.96,210.14 L264.87,209.62 L265.77,209.11 L266.67,208.59 L267.57,208.07 L268.47,207.54 L269.37,207.02 L270.27,206.49 L271.17,205.96 L272.07,205.42 L272.96,204.89 L273.86,204.35 L274.76,203.81 L275.65,203.27 L276.55,202.72 L277.44,202.17 L278.34,201.63 L279.24,201.08 L280.14,200.52 L281.04,199.97 L281.93,199.42 L282.84,198.86 L283.74,198.31 L284.64,197.76 L285.54,197.20 L286.45,196.65 L287.36,196.10 L288.26,195.56 L289.18,195.02 L290.09,194.48 L291.00,193.94 L291.92,193.41 L292.84,192.89 L293.76,192.37 L294.68,191.86 L295.61,191.36 L296.54,190.86 L297.47,190.37 L298.41,189.89 L299.34,189.42 L300.29,188.95 L301.23,188.50 L302.18,188.06 L303.13,187.63 L304.09,187.21 L305.05,186.80 L306.01,186.41 L306.98,186.03 L307.95,185.66 L308.93,185.30 L309.91,184.97 L310.90,184.64 L311.89,184.33 L312.88,184.04 L313.88,183.77 L314.89,183.51 L315.90,183.27 L316.91,183.05 L317.94,182.85 L318.96,182.66 L320.00,182.50 L321.03,182.36 L322.08,182.23 L323.12,182.13 L324.17,182.05 L325.22,181.99 L326.28,181.95 L327.33,181.92 L328.39,181.92 L329.44,181.95 L330.50,181.99 L331.55,182.05 L332.60,182.13 L333.65,182.24 L334.70,182.37 L335.74,182.51 L336.78,182.68 L337.81,182.87 L338.83,183.09 L339.85,183.32 L340.87,183.58 L341.87,183.86 L342.86,184.16 L343.85,184.48 L344.83,184.82 L345.79,185.19 L346.75,185.58 L347.69,185.99 L348.62,186.43 L349.53,186.89 L350.44,187.37 L351.33,187.87 L352.20,188.40 L353.07,188.94 L353.92,189.51 L354.75,190.09 L355.58,190.70 L356.39,191.32 L357.19,191.96 L357.98,192.62 L358.76,193.30 L359.53,193.99 L360.28,194.70 L361.03,195.42 L361.77,196.16 L362.49,196.90 L363.21,197.67 L363.92,198.44 L364.61,199.23 L365.30,200.02 L365.99,200.83 L366.66,201.64 L367.33,202.47 L367.98,203.30 L368.63,204.14 L369.28,204.99 L369.91,205.84 L370.55,206.70 L371.17,207.57 L371.79,208.44 L372.40,209.31 L373.01,210.19 L373.61,211.07 L374.21,211.95 L374.80,212.83 L375.39,213.71 L375.97,214.60 L376.55,215.49 L377.13,216.38 L377.70,217.27 L378.26,218.16 L378.82,219.06 L379.38,219.96 L379.93,220.86 L380.48,221.76 L381.02,222.66 L381.56,223.56 L382.09,224.47 L382.62,225.38 L383.15,226.29 L383.67,227.20 L384.19,228.11 L384.70,229.03 L385.21,229.95 L385.71,230.86 L386.21,231.78 L386.71,232.71 L387.20,233.63 L387.69,234.55 L388.18,235.48 L388.66,236.41 L389.13,237.34 L389.61,238.27 L390.08,239.20 L390.54,240.14 L391.01,241.07 L391.46,242.01 L391.92,242.95 L392.37,243.89 L392.82,244.83 L393.26,245.77 L393.70,246.72 L394.14,247.67 L394.58,248.61 L395.01,249.56 L395.43,250.51 L395.86,251.46 L396.28,252.42 L396.70,253.37 L397.11,254.33 L397.52,255.28 L397.93,256.24 L398.34,257.20 L398.74,258.16 L399.14,259.12 L399.53,260.08 L399.93,261.05 L400.32,262.01 L400.70,262.98 L401.09,263.95 L401.47,264.92 L401.85,265.89 L402.23,266.86 L402.60,267.83 L402.97,268.80 L403.34,269.78 L403.70,270.75 L404.07,271.73 L404.43,272.71 L404.79,273.68 L405.14,274.66 L405.50,275.64 L405.85,276.63 L406.20,277.61 L406.54,278.59 L406.89,279.58 L407.23,280.56 L407.57,281.55 L407.90,282.53 L408.24,283.52 L408.57,284.51 L408.90,285.50 L409.23,286.49 L409.56,287.48 L409.89,288.47 L410.21,289.47 L410.53,290.46 L410.85,291.45 L411.17,292.45 L411.48,293.44 L411.80,294.44 L412.11,295.44 L412.42,296.43 L412.73,297.43 L413.04,298.43 L413.35,299.43 L413.65,300.43 L413.95,301.43 L414.26,302.43 L414.56,303.44 L414.85,304.44 L415.15,305.44 L415.45,306.44 L415.74,307.45 L416.04,308.45 L416.33,309.46 L416.62,310.46 L416.91,311.47 L417.20,312.47 L417.49,313.48 L417.78,314.49 L418.06,315.49 L418.35,316.50 L418.63,317.51 L418.91,318.52 L419.20,319.52 L419.48,320.53 L419.76,321.54 L420.04,322.55 L420.32,323.56 L420.60,324.57 L420.88,325.58 L421.15,326.59 L421.43,327.60 L421.71,328.61 L421.98,329.62 L422.26,330.63 L422.53,331.64 L422.81,332.65 L423.08,333.66 L423.36,334.67 L423.63,335.68 L423.90,336.69 L424.18,337.70 L424.45,338.71 L424.72,339.72 L424.99,340.73 L425.27,341.75 L425.54,342.76 L425.81,343.77 L426.09,344.78 L426.36,345.79 L426.63,346.80 L426.90,347.81 L427.18,348.81 L427.45,349.82 L427.72,350.83 L428.00,351.84 L428.27,352.85 L428.55,353.86 L428.82,354.87 L429.10,355.87 L429.37,356.88 L430.96,362.67" stroke="#f00" stroke-width="2.5" transform="translate(0.2,0)"/>
<path d="M82.49,363.41 L83.08,357.44 L83.22,356.05 L83.36,354.66 L83.50,353.27 L83.64,351.88 L83.78,350.50 L83.92,349.12 L84.07,347.74 L84.21,346.36 L84.36,344.98 L84.51,343.61 L84.66,342.23 L84.81,340.86 L84.96,339.49 L85.12,338.12 L85.27,336.76 L85.43,335.39 L85.58,334.02 L85.74,332.66 L85.90,331.30 L86.07,329.94 L86.23,328.58 L86.39,327.22 L86.56,325.87 L86.73,324.51 L86.90,323.16 L87.07,321.80 L87.24,320.45 L87.41,319.10 L87.59,317.75 L87.76,316.40 L87.94,315.06 L88.12,313.71 L88.30,312.36 L88.48,311.02 L88.67,309.67 L88.85,308.33 L89.04,306.99 L89.22,305.65 L89.41,304.31 L89.60,302.96 L89.80,301.62 L89.99,300.29 L90.18,298.95 L90.38,297.61 L90.58,296.27 L90.78,294.93 L90.98,293.60 L91.18,292.26 L91.39,290.92 L91.59,289.59 L91.80,288.25 L92.01,286.92 L92.22,285.58 L92.43,284.25 L92.65,282.91 L92.86,281.58 L93.08,280.24 L93.30,278.91 L93.52,277.57 L93.74,276.24 L93.96,274.90 L94.19,273.57 L94.41,272.24 L94.64,270.90 L94.87,269.56 L95.10,268.23 L95.34,266.89 L95.57,265.56 L95.81,264.22 L96.04,262.88 L96.28,261.55 L96.52,260.21 L96.77,258.87 L97.01,257.53 L97.26,256.19 L97.51,254.85 L97.76,253.51 L98.01,252.17 L98.26,250.83 L98.52,249.49 L98.77,248.15 L99.03,246.80 L99.29,245.46 L99.55,244.11 L99.82,242.77 L100.08,241.42 L100.35,240.07 L100.62,238.72 L100.89,237.37 L101.16,236.02 L101.43,234.67 L101.71,233.32 L101.99,231.96 L102.28,230.61 L102.56,229.26 L102.86,227.91 L103.15,226.56 L103.46,225.21 L103.76,223.86 L104.08,222.52 L104.40,221.17 L104.73,219.83 L105.06,218.49 L105.41,217.16 L105.76,215.82 L106.12,214.50 L106.49,213.17 L106.86,211.85 L107.25,210.53 L107.65,209.22 L108.06,207.91 L108.48,206.61 L108.91,205.32 L109.36,204.02 L109.82,202.74 L110.29,201.46 L110.78,200.19 L111.28,198.92 L111.79,197.67 L112.33,196.42 L112.88,195.17 L113.45,193.94 L114.03,192.71 L114.64,191.49 L115.26,190.28 L115.91,189.08 L116.57,187.89 L117.26,186.71 L117.97,185.54 L118.70,184.38 L119.46,183.23 L120.25,182.11 L121.07,181.01 L121.93,179.95 L122.82,178.93 L123.77,177.96 L124.76,177.04 L125.80,176.18 L126.89,175.39 L128.02,174.67 L129.20,174.03 L130.42,173.47 L131.67,173.01 L132.95,172.65 L134.25,172.39 L135.58,172.23 L136.92,172.15 L138.28,172.16 L139.65,172.25 L141.03,172.40 L142.41,172.61 L143.79,172.88 L145.16,173.19 L146.52,173.54 L147.87,173.93 L149.20,174.34 L150.52,174.77 L151.82,175.23 L153.10,175.70 L154.37,176.19 L155.64,176.69 L156.89,177.20 L158.13,177.73 L159.37,178.26 L160.60,178.80 L161.83,179.34 L163.06,179.89 L164.28,180.43 L165.51,180.98 L166.74,181.52 L167.97,182.06 L169.22,182.59 L170.46,183.11 L171.72,183.62 L172.99,184.11 L174.27,184.60 L175.56,185.06 L176.87,185.51 L178.19,185.93 L179.53,186.33 L180.88,186.71 L182.24,187.06 L183.61,187.38 L184.99,187.67 L186.37,187.93 L187.76,188.15 L189.15,188.34 L190.54,188.49 L191.93,188.60 L193.31,188.66 L194.68,188.69 L196.05,188.66 L197.41,188.59 L198.76,188.47 L200.10,188.29 L201.42,188.07 L202.72,187.79 L204.02,187.46 L205.29,187.08 L206.56,186.66 L207.81,186.19 L209.04,185.69 L210.27,185.14 L211.48,184.56 L212.67,183.95 L213.86,183.30 L215.03,182.63 L216.19,181.92 L217.34,181.19 L218.48,180.44 L219.61,179.67 L220.73,178.88 L221.84,178.07 L222.93,177.25 L224.02,176.41 L225.10,175.56 L226.17,174.69 L227.23,173.81 L228.28,172.92 L229.32,172.01 L230.36,171.10 L231.39,170.18 L232.41,169.24 L233.42,168.30 L234.42,167.35 L235.42,166.39 L236.41,165.43 L237.40,164.46 L238.38,163.48 L239.36,162.50 L240.32,161.52 L241.29,160.53 L242.25,159.54 L243.20,158.55 L244.15,157.55 L245.10,156.56 L246.04,155.56 L246.98,154.56 L247.91,153.55 L248.84,152.55 L249.77,151.54 L250.69,150.53 L251.61,149.52 L252.52,148.51 L253.43,147.49 L254.34,146.47 L255.24,145.46 L256.14,144.43 L257.04,143.41 L257.93,142.39 L258.82,141.36 L259.71,140.33 L260.59,139.30 L261.48,138.27 L262.36,137.23 L263.23,136.20 L264.11,135.16 L264.98,134.12 L265.85,133.08 L266.72,132.04 L267.59,131.00 L268.45,129.95 L269.31,128.91 L270.17,127.86 L271.03,126.81 L271.89,125.76 L272.75,124.71 L273.60,123.66 L274.45,122.60 L275.31,121.55 L276.16,120.49 L277.01,119.43 L277.86,118.37 L278.70,117.31 L279.55,116.25 L280.40,115.19 L281.25,114.13 L282.09,113.06 L282.94,112.00 L283.79,110.93 L284.63,109.87 L285.48,108.80 L286.32,107.73 L287.17,106.66 L288.02,105.59 L288.86,104.52 L289.71,103.45 L290.56,102.38 L291.41,101.30 L292.26,100.23 L293.11,99.16 L293.96,98.08 L294.81,97.01 L295.66,95.93 L296.52,94.86 L297.38,93.78 L298.23,92.70 L299.09,91.63 L299.95,90.55 L300.82,89.47 L301.68,88.40 L302.55,87.32 L303.42,86.25 L304.29,85.17 L305.17,84.11 L306.05,83.04 L306.94,81.98 L307.83,80.93 L308.73,79.88 L309.64,78.83 L310.55,77.80 L311.46,76.77 L312.39,75.75 L313.32,74.74 L314.26,73.74 L315.21,72.75 L316.17,71.77 L317.14,70.81 L318.12,69.85 L319.11,68.91 L320.11,67.99 L321.12,67.07 L322.14,66.18 L323.17,65.29 L324.22,64.43 L325.28,63.58 L326.35,62.75 L327.44,61.94 L328.54,61.15 L329.66,60.38 L330.79,59.62 L331.93,58.89 L333.09,58.18 L334.27,57.50 L335.47,56.84 L336.68,56.20 L337.91,55.58 L339.16,55.00 L340.42,54.44 L341.69,53.92 L342.98,53.43 L344.28,52.98 L345.59,52.58 L346.90,52.22 L348.23,51.91 L349.55,51.65 L350.88,51.45 L352.22,51.30 L353.55,51.22 L354.89,51.20 L356.22,51.25 L357.55,51.36 L358.87,51.54 L360.19,51.78 L361.50,52.07 L362.80,52.42 L364.09,52.82 L365.37,53.28 L366.63,53.77 L367.88,54.31 L369.12,54.89 L370.33,55.51 L371.53,56.17 L372.71,56.85 L373.86,57.57 L374.99,58.31 L376.10,59.08 L377.19,59.88 L378.26,60.70 L379.30,61.54 L380.32,62.41 L381.32,63.29 L382.31,64.20 L383.27,65.13 L384.22,66.08 L385.14,67.06 L386.05,68.04 L386.95,69.05 L387.82,70.08 L388.68,71.12 L389.53,72.18 L390.36,73.25 L391.17,74.34 L391.97,75.44 L392.76,76.56 L393.54,77.68 L394.30,78.82 L395.05,79.97 L395.79,81.14 L396.52,82.31 L397.24,83.49 L397.95,84.68 L398.65,85.87 L399.35,87.08 L400.03,88.28 L400.71,89.50 L401.38,90.72 L402.04,91.94 L402.70,93.17 L403.35,94.40 L404.00,95.63 L404.64,96.87 L405.28,98.10 L405.92,99.34 L406.55,100.58 L407.18,101.81 L407.80,103.05 L408.42,104.30 L409.03,105.54 L409.64,106.78 L410.24,108.03 L410.84,109.28 L411.43,110.52 L412.02,111.77 L412.60,113.02 L413.18,114.28 L413.76,115.53 L414.33,116.78 L414.89,118.04 L415.45,119.29 L416.00,120.55 L416.55,121.81 L417.09,123.07 L417.63,124.34 L418.16,125.60 L418.68,126.86 L419.20,128.13 L419.72,129.40 L420.23,130.66 L420.73,131.93 L421.23,133.20 L421.72,134.48 L422.20,135.75 L422.68,137.02 L423.16,138.30 L423.62,139.58 L424.08,140.85 L424.54,142.13 L424.99,143.41 L425.43,144.69 L425.86,145.98 L426.30,147.26 L426.72,148.55 L427.14,149.83 L427.55,151.12 L427.96,152.41 L428.37,153.70 L428.77,154.99 L429.16,156.28 L429.56,157.57 L429.94,158.87 L430.32,160.16 L430.70,161.46 L431.08,162.76 L431.45,164.06 L431.82,165.36 L432.18,166.66 L432.55,167.96 L432.90,169.26 L433.26,170.56 L433.61,171.87 L433.97,173.17 L434.32,174.48 L434.66,175.78 L435.01,177.09 L435.35,178.40 L435.69,179.71 L436.03,181.02 L436.37,182.33 L436.71,183.65 L437.05,184.96 L437.38,186.27 L437.72,187.59 L438.05,188.90 L438.39,190.22 L438.72,191.54 L439.06,192.85 L439.39,194.17 L439.73,195.49 L440.06,196.81 L440.40,198.13 L440.74,199.45 L441.07,200.78 L441.41,202.10 L441.75,203.42 L442.08,204.75 L442.42,206.07 L442.76,207.40 L443.10,208.73 L443.43,210.05 L443.77,211.38 L444.10,212.71 L444.44,214.04 L444.78,215.37 L445.11,216.70 L445.44,218.03 L445.78,219.36 L446.11,220.69 L446.44,222.02 L446.77,223.35 L447.10,224.69 L447.43,226.02 L447.75,227.35 L448.08,228.69 L448.40,230.02 L448.72,231.36 L449.04,232.69 L449.36,234.03 L449.68,235.37 L449.99,236.70 L450.30,238.04 L450.62,239.38 L450.92,240.72 L451.23,242.05 L451.53,243.39 L451.84,244.73 L452.14,246.07 L452.43,247.41 L452.73,248.75 L453.02,250.09 L453.31,251.43 L453.60,252.77 L453.88,254.11 L454.16,255.45 L454.44,256.80 L454.72,258.14 L454.99,259.48 L455.26,260.82 L455.54,262.16 L455.80,263.51 L456.07,264.85 L456.34,266.19 L456.60,267.53 L456.86,268.88 L457.12,270.22 L457.38,271.56 L457.63,272.91 L457.89,274.25 L458.14,275.59 L458.40,276.94 L458.65,278.28 L458.90,279.62 L459.15,280.97 L459.39,282.31 L459.64,283.65 L459.89,285.00 L460.13,286.34 L460.38,287.68 L460.62,289.02 L460.86,290.37 L461.11,291.71 L461.35,293.05 L461.59,294.40 L461.83,295.74 L462.07,297.08 L462.31,298.42 L462.55,299.77 L462.80,301.11 L463.04,302.45 L463.28,303.79 L463.52,305.13 L463.76,306.48 L464.00,307.82 L464.24,309.16 L464.48,310.50 L464.73,311.84 L464.97,313.18 L465.21,314.52 L465.46,315.86 L465.70,317.20 L465.95,318.54 L466.20,319.87 L466.44,321.21 L466.69,322.55 L466.94,323.89 L467.20,325.23 L467.45,326.56 L467.70,327.90 L467.96,329.23 L468.21,330.57 L468.47,331.90 L468.73,333.24 L468.99,334.57 L469.26,335.91 L469.52,337.24 L469.79,338.57 L470.06,339.91 L470.33,341.24 L470.60,342.57 L470.88,343.90 L471.15,345.23 L471.43,346.56 L471.71,347.89 L472.00,349.22 L472.28,350.54 L472.57,351.87 L472.87,353.20 L473.16,354.52 L473.46,355.85 L474.76,361.71" stroke="#00f" stroke-width="2.5" transform="translate(-0.2,0)"/><path d="M82.49,363.41 L83.08,357.44 L83.22,356.05 L83.36,354.66 L83.50,353.27 L83.64,351.88 L83.78,350.50 L83.92,349.12 L84.07,347.74 L84.21,346.36 L84.36,344.98 L84.51,343.61 L84.66,342.23 L84.81,340.86 L84.96,339.49 L85.12,338.12 L85.27,336.76 L85.43,335.39 L85.58,334.02 L85.74,332.66 L85.90,331.30 L86.07,329.94 L86.23,328.58 L86.39,327.22 L86.56,325.87 L86.73,324.51 L86.90,323.16 L87.07,321.80 L87.24,320.45 L87.41,319.10 L87.59,317.75 L87.76,316.40 L87.94,315.06 L88.12,313.71 L88.30,312.36 L88.48,311.02 L88.67,309.67 L88.85,308.33 L89.04,306.99 L89.22,305.65 L89.41,304.31 L89.60,302.96 L89.80,301.62 L89.99,300.29 L90.18,298.95 L90.38,297.61 L90.58,296.27 L90.78,294.93 L90.98,293.60 L91.18,292.26 L91.39,290.92 L91.59,289.59 L91.80,288.25 L92.01,286.92 L92.22,285.58 L92.43,284.25 L92.65,282.91 L92.86,281.58 L93.08,280.24 L93.30,278.91 L93.52,277.57 L93.74,276.24 L93.96,274.90 L94.19,273.57 L94.41,272.24 L94.64,270.90 L94.87,269.56 L95.10,268.23 L95.34,266.89 L95.57,265.56 L95.81,264.22 L96.04,262.88 L96.28,261.55 L96.52,260.21 L96.77,258.87 L97.01,257.53 L97.26,256.19 L97.51,254.85 L97.76,253.51 L98.01,252.17 L98.26,250.83 L98.52,249.49 L98.77,248.15 L99.03,246.80 L99.29,245.46 L99.55,244.11 L99.82,242.77 L100.08,241.42 L100.35,240.07 L100.62,238.72 L100.89,237.37 L101.16,236.02 L101.43,234.67 L101.71,233.32 L101.99,231.96 L102.28,230.61 L102.56,229.26 L102.86,227.91 L103.15,226.56 L103.46,225.21 L103.76,223.86 L104.08,222.52 L104.40,221.17 L104.73,219.83 L105.06,218.49 L105.41,217.16 L105.76,215.82 L106.12,214.50 L106.49,213.17 L106.86,211.85 L107.25,210.53 L107.65,209.22 L108.06,207.91 L108.48,206.61 L108.91,205.32 L109.36,204.02 L109.82,202.74 L110.29,201.46 L110.78,200.19 L111.28,198.92 L111.79,197.67 L112.33,196.42 L112.88,195.17 L113.45,193.94 L114.03,192.71 L114.64,191.49 L115.26,190.28 L115.91,189.08 L116.57,187.89 L117.26,186.71 L117.97,185.54 L118.70,184.38 L119.46,183.23 L120.25,182.11 L121.07,181.01 L121.93,179.95 L122.82,178.93 L123.77,177.96 L124.76,177.04 L125.80,176.18 L126.89,175.39 L128.02,174.67 L129.20,174.03 L130.42,173.47 L131.67,173.01 L132.95,172.65 L134.25,172.39 L135.58,172.23 L136.92,172.15 L138.28,172.16 L139.65,172.25 L141.03,172.40 L142.41,172.61 L143.79,172.88 L145.16,173.19 L146.52,173.54 L147.87,173.93 L149.20,174.34 L150.52,174.77 L151.82,175.23 L153.10,175.70 L154.37,176.19 L155.64,176.69 L156.89,177.20 L158.13,177.73 L159.37,178.26 L160.60,178.80 L161.83,179.34 L163.06,179.89 L164.28,180.43 L165.51,180.98 L166.74,181.52 L167.97,182.06 L169.22,182.59 L170.46,183.11 L171.72,183.62 L172.99,184.11 L174.27,184.60 L175.56,185.06 L176.87,185.51 L178.19,185.93 L179.53,186.33 L180.88,186.71 L182.24,187.06 L183.61,187.38 L184.99,187.67 L186.37,187.93 L187.76,188.15 L189.15,188.34 L190.54,188.49 L191.93,188.60 L193.31,188.66 L194.68,188.69 L196.05,188.66 L197.41,188.59 L198.76,188.47 L200.10,188.29 L201.42,188.07 L202.72,187.79 L204.02,187.46 L205.29,187.08 L206.56,186.66 L207.81,186.19 L209.04,185.69 L210.27,185.14 L211.48,184.56 L212.67,183.95 L213.86,183.30 L215.03,182.63 L216.19,181.92 L217.34,181.19 L218.48,180.44 L219.61,179.67 L220.73,178.88 L221.84,178.07 L222.93,177.25 L224.02,176.41 L225.10,175.56 L226.17,174.69 L227.23,173.81 L228.28,172.92 L229.32,172.01 L230.36,171.10 L231.39,170.18 L232.41,169.24 L233.42,168.30 L234.42,167.35 L235.42,166.39 L236.41,165.43 L237.40,164.46 L238.38,163.48 L239.36,162.50 L240.32,161.52 L241.29,160.53 L242.25,159.54 L243.20,158.55 L244.15,157.55 L245.10,156.56 L246.04,155.56 L246.98,154.56 L247.91,153.55 L248.84,152.55 L249.77,151.54 L250.69,150.53 L251.61,149.52 L252.52,148.51 L253.43,147.49 L254.34,146.47 L255.24,145.46 L256.14,144.43 L257.04,143.41 L257.93,142.39 L258.82,141.36 L259.71,140.33 L260.59,139.30 L261.48,138.27 L262.36,137.23 L263.23,136.20 L264.11,135.16 L264.98,134.12 L265.85,133.08 L266.72,132.04 L267.59,131.00 L268.45,129.95 L269.31,128.91 L270.17,127.86 L271.03,126.81 L271.89,125.76 L272.75,124.71 L273.60,123.66 L274.45,122.60 L275.31,121.55 L276.16,120.49 L277.01,119.43 L277.86,118.37 L278.70,117.31 L279.55,116.25 L280.40,115.19 L281.25,114.13 L282.09,113.06 L282.94,112.00 L283.79,110.93 L284.63,109.87 L285.48,108.80 L286.32,107.73 L287.17,106.66 L288.02,105.59 L288.86,104.52 L289.71,103.45 L290.56,102.38 L291.41,101.30 L292.26,100.23 L293.11,99.16 L293.96,98.08 L294.81,97.01 L295.66,95.93 L296.52,94.86 L297.38,93.78 L298.23,92.70 L299.09,91.63 L299.95,90.55 L300.82,89.47 L301.68,88.40 L302.55,87.32 L303.42,86.25 L304.29,85.17 L305.17,84.11 L306.05,83.04 L306.94,81.98 L307.83,80.93 L308.73,79.88 L309.64,78.83 L310.55,77.80 L311.46,76.77 L312.39,75.75 L313.32,74.74 L314.26,73.74 L315.21,72.75 L316.17,71.77 L317.14,70.81 L318.12,69.85 L319.11,68.91 L320.11,67.99 L321.12,67.07 L322.14,66.18 L323.17,65.29 L324.22,64.43 L325.28,63.58 L326.35,62.75 L327.44,61.94 L328.54,61.15 L329.66,60.38 L330.79,59.62 L331.93,58.89 L333.09,58.18 L334.27,57.50 L335.47,56.84 L336.68,56.20 L337.91,55.58 L339.16,55.00 L340.42,54.44 L341.69,53.92 L342.98,53.43 L344.28,52.98 L345.59,52.58 L346.90,52.22 L348.23,51.91 L349.55,51.65 L350.88,51.45 L352.22,51.30 L353.55,51.22 L354.89,51.20 L356.22,51.25 L357.55,51.36 L358.87,51.54 L360.19,51.78 L361.50,52.07 L362.80,52.42 L364.09,52.82 L365.37,53.28 L366.63,53.77 L367.88,54.31 L369.12,54.89 L370.33,55.51 L371.53,56.17 L372.71,56.85 L373.86,57.57 L374.99,58.31 L376.10,59.08 L377.19,59.88 L378.26,60.70 L379.30,61.54 L380.32,62.41 L381.32,63.29 L382.31,64.20 L383.27,65.13 L384.22,66.08 L385.14,67.06 L386.05,68.04 L386.95,69.05 L387.82,70.08 L388.68,71.12 L389.53,72.18 L390.36,73.25 L391.17,74.34 L391.97,75.44 L392.76,76.56 L393.54,77.68 L394.30,78.82 L395.05,79.97 L395.79,81.14 L396.52,82.31 L397.24,83.49 L397.95,84.68 L398.65,85.87 L399.35,87.08 L400.03,88.28 L400.71,89.50 L401.38,90.72 L402.04,91.94 L402.70,93.17 L403.35,94.40 L404.00,95.63 L404.64,96.87 L405.28,98.10 L405.92,99.34 L406.55,100.58 L407.18,101.81 L407.80,103.05 L408.42,104.30 L409.03,105.54 L409.64,106.78 L410.24,108.03 L410.84,109.28 L411.43,110.52 L412.02,111.77 L412.60,113.02 L413.18,114.28 L413.76,115.53 L414.33,116.78 L414.89,118.04 L415.45,119.29 L416.00,120.55 L416.55,121.81 L417.09,123.07 L417.63,124.34 L418.16,125.60 L418.68,126.86 L419.20,128.13 L419.72,129.40 L420.23,130.66 L420.73,131.93 L421.23,133.20 L421.72,134.48 L422.20,135.75 L422.68,137.02 L423.16,138.30 L423.62,139.58 L424.08,140.85 L424.54,142.13 L424.99,143.41 L425.43,144.69 L425.86,145.98 L426.30,147.26 L426.72,148.55 L427.14,149.83 L427.55,151.12 L427.96,152.41 L428.37,153.70 L428.77,154.99 L429.16,156.28 L429.56,157.57 L429.94,158.87 L430.32,160.16 L430.70,161.46 L431.08,162.76 L431.45,164.06 L431.82,165.36 L432.18,166.66 L432.55,167.96 L432.90,169.26 L433.26,170.56 L433.61,171.87 L433.97,173.17 L434.32,174.48 L434.66,175.78 L435.01,177.09 L435.35,178.40 L435.69,179.71 L436.03,181.02 L436.37,182.33 L436.71,183.65 L437.05,184.96 L437.38,186.27 L437.72,187.59 L438.05,188.90 L438.39,190.22 L438.72,191.54 L439.06,192.85 L439.39,194.17 L439.73,195.49 L440.06,196.81 L440.40,198.13 L440.74,199.45 L441.07,200.78 L441.41,202.10 L441.75,203.42 L442.08,204.75 L442.42,206.07 L442.76,207.40 L443.10,208.73 L443.43,210.05 L443.77,211.38 L444.10,212.71 L444.44,214.04 L444.78,215.37 L445.11,216.70 L445.44,218.03 L445.78,219.36 L446.11,220.69 L446.44,222.02 L446.77,223.35 L447.10,224.69 L447.43,226.02 L447.75,227.35 L448.08,228.69 L448.40,230.02 L448.72,231.36 L449.04,232.69 L449.36,234.03 L449.68,235.37 L449.99,236.70 L450.30,238.04 L450.62,239.38 L450.92,240.72 L451.23,242.05 L451.53,243.39 L451.84,244.73 L452.14,246.07 L452.43,247.41 L452.73,248.75 L453.02,250.09 L453.31,251.43 L453.60,252.77 L453.88,254.11 L454.16,255.45 L454.44,256.80 L454.72,258.14 L454.99,259.48 L455.26,260.82 L455.54,262.16 L455.80,263.51 L456.07,264.85 L456.34,266.19 L456.60,267.53 L456.86,268.88 L457.12,270.22 L457.38,271.56 L457.63,272.91 L457.89,274.25 L458.14,275.59 L458.40,276.94 L458.65,278.28 L458.90,279.62 L459.15,280.97 L459.39,282.31 L459.64,283.65 L459.89,285.00 L460.13,286.34 L460.38,287.68 L460.62,289.02 L460.86,290.37 L461.11,291.71 L461.35,293.05 L461.59,294.40 L461.83,295.74 L462.07,297.08 L462.31,298.42 L462.55,299.77 L462.80,301.11 L463.04,302.45 L463.28,303.79 L463.52,305.13 L463.76,306.48 L464.00,307.82 L464.24,309.16 L464.48,310.50 L464.73,311.84 L464.97,313.18 L465.21,314.52 L465.46,315.86 L465.70,317.20 L465.95,318.54 L466.20,319.87 L466.44,321.21 L466.69,322.55 L466.94,323.89 L467.20,325.23 L467.45,326.56 L467.70,327.90 L467.96,329.23 L468.21,330.57 L468.47,331.90 L468.73,333.24 L468.99,334.57 L469.26,335.91 L469.52,337.24 L469.79,338.57 L470.06,339.91 L470.33,341.24 L470.60,342.57 L470.88,343.90 L471.15,345.23 L471.43,346.56 L471.71,347.89 L472.00,349.22 L472.28,350.54 L472.57,351.87 L472.87,353.20 L473.16,354.52 L473.46,355.85 L474.76,361.71" stroke="#00f" stroke-width="2.5" transform="translate(0.2,0)"/>

</g>
<g font-size="21.3"><text transform="translate(49.10,21.35) scale(1.0,1.09)" text-anchor="end">3</text><text transform="translate(49.10,83.83) scale(1.0,1.09)" text-anchor="end">2</text><text transform="translate(49.10,146.31) scale(1.0,1.09)" text-anchor="end">1</text><text transform="translate(49.10,208.80) scale(1.0,1.09)" text-anchor="end">0</text><text transform="translate(49.10,271.28) scale(1.0,1.09)" text-anchor="end">-1</text><text transform="translate(49.10,333.76) scale(1.0,1.09)" text-anchor="end">-2</text><text transform="translate(125.65,381.60) scale(1.0,1.09)" text-anchor="middle">10.10</text><text transform="translate(263.44,381.60) scale(1.0,1.09)" text-anchor="middle">10.11</text><text transform="translate(401.23,381.60) scale(1.0,1.09)" text-anchor="middle">10.12</text></g>
<line x1="75" y1="36.40" x2="111.7" y2="36.40" stroke="#000" stroke-width="2.5" stroke-linecap="round"/><text transform="translate(115.9,41.90) scale(1,1.06)" font-size="16.2">P<tspan dx="6.10" dy="1.6">=</tspan><tspan dy="-1.6">528mW</tspan></text><text transform="translate(124.91,45.60) scale(1,0.93)" font-size="11.2">d</text><line x1="75" y1="60.30" x2="111.7" y2="60.30" stroke="#f00" stroke-width="2.5" stroke-linecap="round"/><text transform="translate(115.9,65.80) scale(1,1.06)" font-size="16.2">P<tspan dx="6.10" dy="1.6">=</tspan><tspan dy="-1.6">530mW</tspan></text><text transform="translate(124.91,69.50) scale(1,0.93)" font-size="11.2">d</text><line x1="75" y1="84.20" x2="111.7" y2="84.20" stroke="#00f" stroke-width="2.5" stroke-linecap="round"/><text transform="translate(115.9,89.70) scale(1,1.06)" font-size="16.2">P<tspan dx="6.10" dy="1.6">=</tspan><tspan dy="-1.6">536mW</tspan></text><text transform="translate(124.91,93.40) scale(1,0.93)" font-size="11.2">d</text>
<text transform="translate(219.17,417.8) scale(1,1.03)" font-size="21.3"><tspan stroke="#000" stroke-width="0.5">ω</tspan><tspan dx="5.24">/2</tspan><tspan stroke="#000" stroke-width="0.5" dx="0.3">π</tspan><tspan dx="1.2" font-size="21.0">(GHz)</tspan></text>
<text transform="translate(232.2,423.5) scale(0.95,1.03)" font-size="13.5">d</text>
<text transform="translate(23.3,185.7) rotate(-90) scale(1.115,1)" font-size="21.7" text-anchor="middle">Γ</text>
</svg>
</body></html>
